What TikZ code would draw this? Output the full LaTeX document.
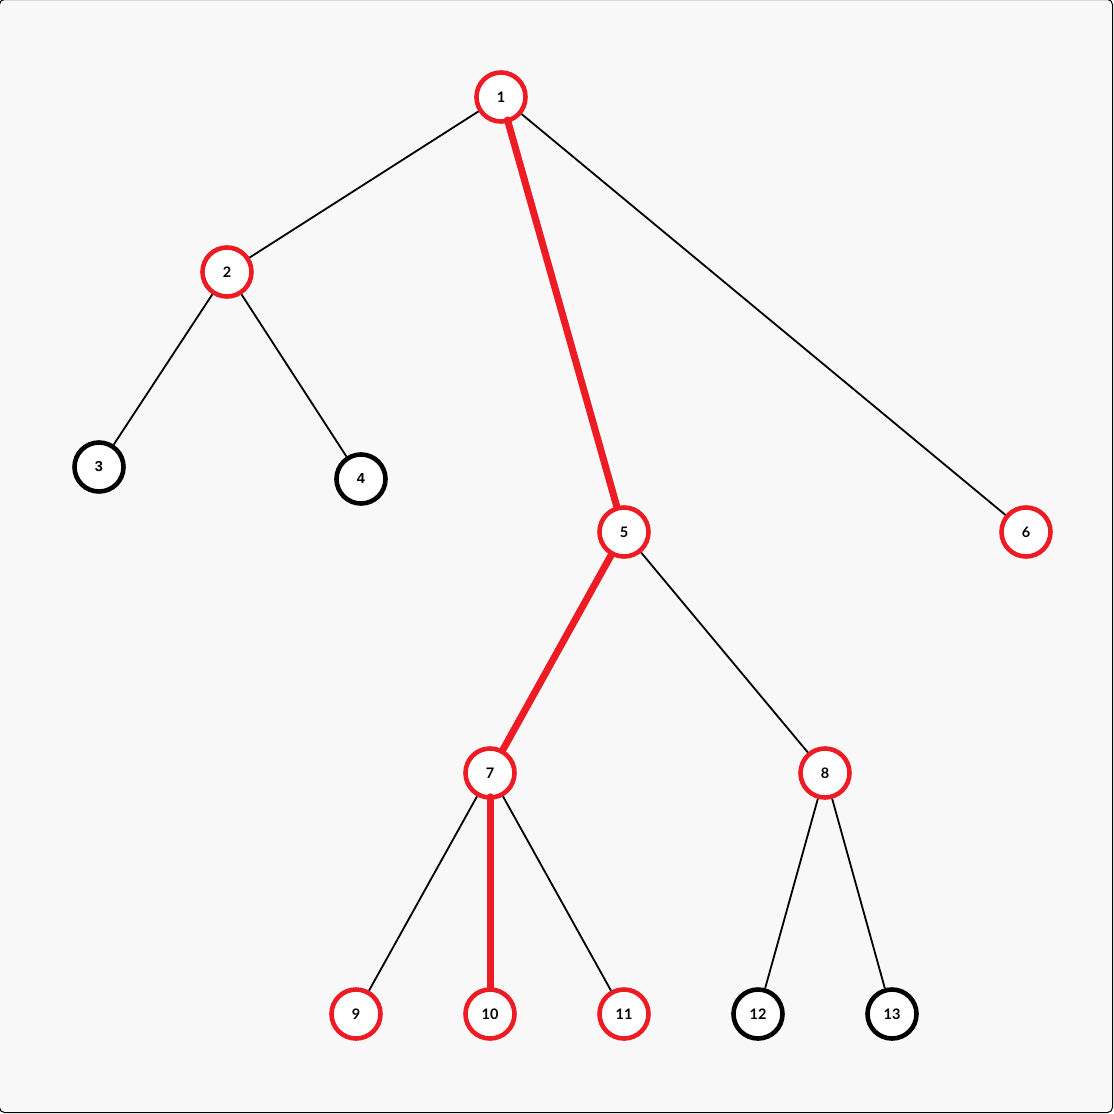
\documentclass[tikz,border=0pt]{standalone}
\usepackage{fontspec}
\setmainfont{Lato}
\newfontfamily\leaffont{Liberation Sans}
\definecolor{pathred}{RGB}{237,28,36}
\definecolor{canvas}{RGB}{248,248,248}

\begin{document}
\begin{tikzpicture}[x=1pt,y=-1pt,
	vertex/.style={circle, draw=pathred, line width=4.6pt, fill=white, minimum size=49pt, inner sep=0pt, font=\bfseries\fontsize{14.5}{16}\selectfont},
	leaf/.style={vertex, draw=black},
	edge/.style={line width=1.8pt, black},
	pathedge/.style={line width=7pt, pathred, line cap=round}]
	\useasboundingbox (0,0) rectangle (1114,1114);
	\draw [fill=canvas, rounded corners=5pt, line width=1pt] (-0.5,-0.5) rectangle (1112.5,1112.5);

	% tree nodes
	\node[vertex] (n1) at (501,97) {1};
	\node[vertex] (n2) at (227,272) {2};
	\node[leaf, font=\leaffont\bfseries\fontsize{14.5}{16}\selectfont] (n3) at (99,467) {3};
	\node[leaf, font=\leaffont\bfseries\fontsize{14.5}{16}\selectfont] (n4) at (361,479) {4};
	\node[vertex] (n5) at (624,532) {5};
	\node[vertex] (n6) at (1026,532) {6};
	\node[vertex] (n7) at (490,773) {7};
	\node[vertex] (n8) at (825,773) {8};
	\node[vertex] (n9) at (356,1014) {9};
	\node[vertex] (n10) at (490,1014) {10};
	\node[vertex] (n11) at (624,1014) {11};
	\node[leaf] (n12) at (758,1014) {12};
	\node[leaf] (n13) at (892,1014) {13};

	% plain edges
	\draw[edge] (n1) -- (n2);
	\draw[edge] (n1) -- (n6);
	\draw[edge] (n2) -- (n3);
	\draw[edge] (n2) -- (n4);
	\draw[edge] (n5) -- (n8);
	\draw[edge] (n7) -- (n9);
	\draw[edge] (n7) -- (n11);
	\draw[edge] (n8) -- (n12);
	\draw[edge] (n8) -- (n13);

	% highlighted path
	\draw[pathedge, shorten <=-3pt] (n1) -- (n5);
	\draw[pathedge] (n5) -- (n7);
	\draw[pathedge, shorten <=-3pt] (n7) -- (n10);
\end{tikzpicture}
\end{document}
